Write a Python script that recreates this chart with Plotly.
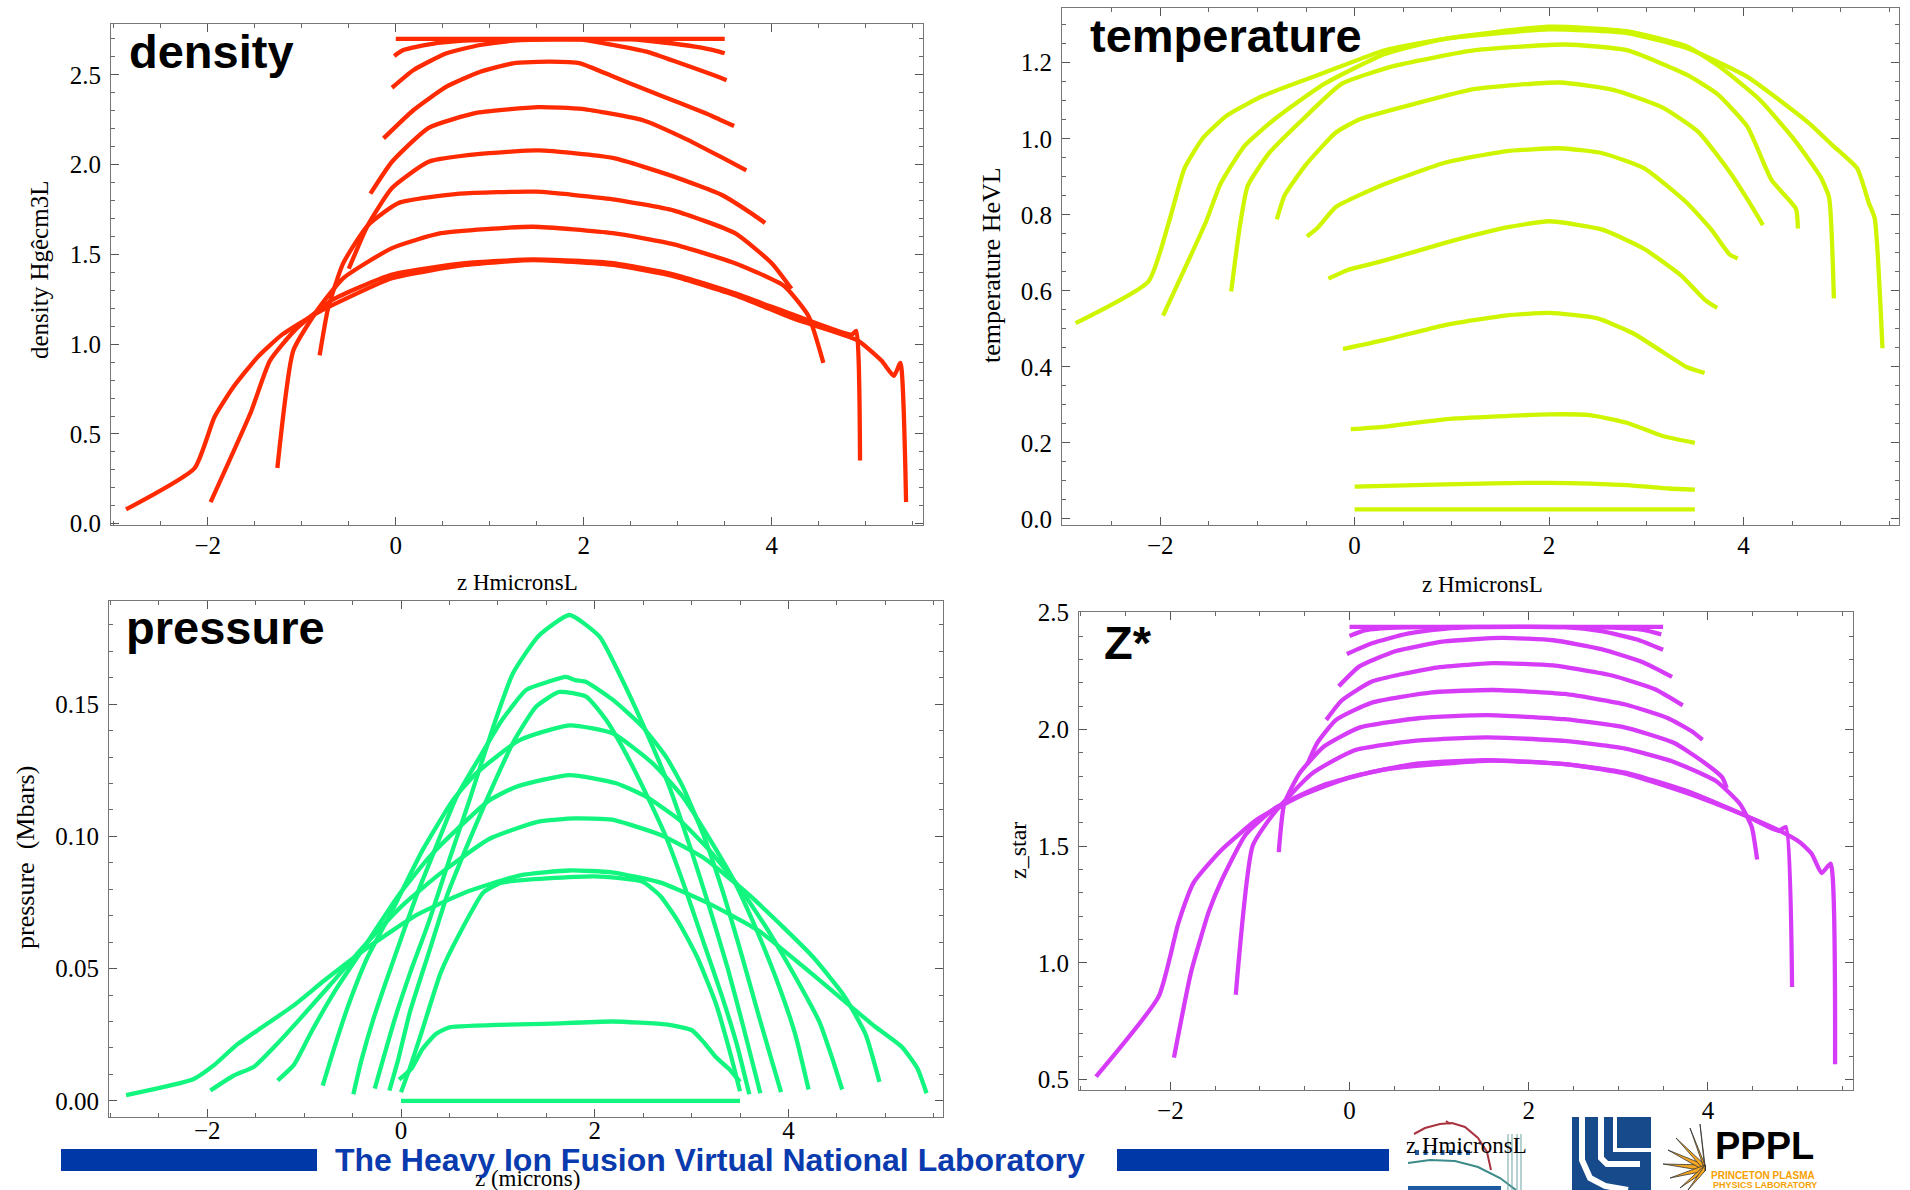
import plotly.graph_objects as go

W, H = 1910, 1190

# ---------------- data: ten time snapshots per quantity ----------------
# density (g/cm^3) versus z (microns)
DENS_Z = [
    [0.0, 3.5],
    [-0.017, 0.08, 0.37, 0.72, 1.5, 2.5, 2.85, 3.2, 3.38, 3.5],
    [-0.04, 0.19, 0.54, 0.9, 1.25, 1.7, 2.0, 2.32, 2.67, 3.03, 3.38, 3.52],
    [-0.13, 0.19, 0.54, 0.9, 1.25, 1.64, 1.96, 2.32, 2.67, 3.03, 3.38, 3.6],
    [-0.27, -0.04, 0.35, 0.87, 1.52, 1.98, 2.63, 3.09, 3.48, 3.73],
    [-0.5, -0.3, -0.04, 0.35, 0.87, 1.52, 2.31, 2.96, 3.48, 3.8, 3.93],
    [-0.81, -0.72, -0.56, -0.3, 0.03, 0.68, 1.49, 2.31, 2.96, 3.61, 4.0, 4.21],
    [-1.26, -1.09, -0.82, -0.56, -0.04, 0.48, 1.46, 2.31, 2.96, 3.61, 4.13, 4.39, 4.55],
    [-1.97, -1.54, -1.34, -1.08, -0.69, -0.04, 0.74, 1.46, 2.31, 2.96, 3.61, 4.26, 4.85, 4.9, 4.94],
    [-2.87, -2.14, -1.93, -1.73, -1.47, -1.21, -0.82, -0.04, 0.74, 1.46, 2.31, 2.96, 3.61, 4.26,
     4.91, 5.17, 5.3, 5.37, 5.43],
]
DENS_V = [
    [2.70, 2.70],
    [2.605, 2.638, 2.671, 2.69, 2.697, 2.697, 2.68, 2.656, 2.638, 2.62],
    [2.428, 2.527, 2.62, 2.666, 2.69, 2.697, 2.695, 2.666, 2.629, 2.564, 2.499, 2.47],
    [2.146, 2.304, 2.434, 2.517, 2.564, 2.573, 2.564, 2.489, 2.415, 2.341, 2.267, 2.215],
    [1.838, 2.016, 2.205, 2.289, 2.32, 2.31, 2.247, 2.142, 2.037, 1.968],
    [1.42, 1.66, 1.87, 2.016, 2.058, 2.079, 2.037, 1.933, 1.828, 1.723, 1.675],
    [0.938, 1.2, 1.45, 1.66, 1.786, 1.838, 1.849, 1.807, 1.744, 1.618, 1.451, 1.309],
    [0.31, 0.965, 1.2, 1.367, 1.535, 1.618, 1.654, 1.618, 1.556, 1.451, 1.325, 1.158, 0.896],
    [0.121, 0.624, 0.907, 1.074, 1.242, 1.388, 1.451, 1.472, 1.451, 1.388, 1.283, 1.158, 1.053, 1.074, 0.352],
    [0.08, 0.31, 0.593, 0.76, 0.928, 1.053, 1.179, 1.367, 1.441, 1.468, 1.441, 1.378, 1.273, 1.137,
     1.022, 0.907, 0.823, 0.896, 0.121],
]

# temperature (eV)
TEMP_Z = [
    [0.0, 3.5],
    [0.0, 0.93, 2.0, 2.8, 3.23, 3.5],
    [-0.04, 0.31, 0.93, 2.0, 2.42, 2.8, 3.17, 3.5],
    [-0.12, 0.31, 0.93, 1.55, 2.0, 2.49, 2.86, 3.17, 3.42, 3.6],
    [-0.27, -0.07, 0.31, 0.93, 1.55, 2.0, 2.55, 2.98, 3.36, 3.61, 3.73],
    [-0.49, -0.38, -0.19, 0.31, 0.93, 1.55, 2.11, 2.55, 2.98, 3.42, 3.67, 3.86, 3.94],
    [-0.8, -0.72, -0.5, -0.19, 0.06, 0.62, 1.24, 2.11, 2.67, 3.17, 3.54, 3.86, 4.04, 4.2],
    [-1.27, -1.18, -1.1, -0.88, -0.57, -0.13, 0.43, 1.24, 2.17, 2.8, 3.42, 3.73, 4.04, 4.29, 4.54, 4.56],
    [-1.97, -1.53, -1.38, -1.13, -0.82, -0.32, 0.31, 0.93, 2.0, 2.8, 3.42, 3.79, 4.17, 4.54, 4.79,
     4.88, 4.93],
    [-2.87, -2.12, -1.91, -1.75, -1.56, -1.31, -0.94, -0.32, 0.31, 0.93, 2.0, 2.8, 3.42, 4.04, 4.67,
     4.92, 5.17, 5.29, 5.35, 5.43],
]
TEMP_V = [
    [0.025, 0.025],
    [0.085, 0.091, 0.095, 0.089, 0.08, 0.077],
    [0.236, 0.243, 0.262, 0.275, 0.273, 0.253, 0.218, 0.2],
    [0.447, 0.471, 0.51, 0.535, 0.542, 0.528, 0.489, 0.439, 0.399, 0.384],
    [0.632, 0.655, 0.68, 0.726, 0.766, 0.783, 0.761, 0.71, 0.64, 0.575, 0.555],
    [0.743, 0.766, 0.821, 0.881, 0.937, 0.967, 0.975, 0.962, 0.922, 0.831, 0.761, 0.695, 0.685],
    [0.788, 0.851, 0.932, 1.017, 1.052, 1.092, 1.131, 1.148, 1.128, 1.082, 1.017, 0.912, 0.841, 0.773],
    [0.598, 0.771, 0.876, 0.962, 1.042, 1.145, 1.193, 1.233, 1.248, 1.233, 1.168, 1.118, 1.032, 0.891,
     0.816, 0.764],
    [0.535, 0.781, 0.881, 0.982, 1.052, 1.143, 1.223, 1.263, 1.295, 1.283, 1.243, 1.183, 1.102, 0.992,
     0.901, 0.846, 0.58],
    [0.515, 0.625, 0.781, 0.922, 1.002, 1.062, 1.113, 1.173, 1.233, 1.263, 1.288, 1.278, 1.238, 1.163,
     1.042, 0.982, 0.922, 0.831, 0.791, 0.449],
]

# pressure (Mbar)
PRES_Z = [
    [0.0, 3.5],
    [-0.02, 0.11, 0.22, 0.36, 0.5, 1.55, 2.18, 2.74, 3.0, 3.12, 3.25, 3.38, 3.5],
    [0.0, 0.09, 0.22, 0.41, 0.6, 0.85, 1.04, 2.0, 2.49, 2.68, 2.87, 3.06, 3.25, 3.41, 3.5],
    [-0.12, -0.032, 0.095, 0.284, 0.473, 0.662, 0.883, 1.155, 1.394, 1.634, 1.912, 2.12, 2.322, 2.562,
     2.744, 2.934, 3.123, 3.312, 3.47, 3.596],
    [-0.271, -0.189, -0.063, 0.095, 0.284, 0.505, 0.707, 0.953, 1.155, 1.42, 1.741, 2.05, 2.252, 2.492,
     2.77, 2.997, 3.186, 3.375, 3.533, 3.71],
    [-0.492, -0.41, -0.284, -0.095, 0.158, 0.347, 0.574, 0.852, 1.041, 1.293, 1.514, 1.703, 1.798,
     1.912, 2.189, 2.492, 2.738, 2.909, 3.123, 3.312, 3.502, 3.691, 3.817, 3.924],
    [-0.808, -0.694, -0.536, -0.347, -0.095, 0.221, 0.536, 0.776, 1.224, 1.741, 2.189, 2.599, 2.909,
     3.186, 3.438, 3.691, 3.88, 4.069, 4.208],
    [-1.274, -1.104, -0.915, -0.662, -0.347, -0.032, 0.284, 0.599, 0.915, 1.192, 1.741, 2.221, 2.53,
     2.871, 3.186, 3.502, 3.817, 4.069, 4.322, 4.448, 4.555],
    [-1.968, -1.735, -1.514, -1.293, -1.041, -0.726, -0.347, 0.032, 0.41, 0.915, 1.42, 1.798, 2.177,
     2.681, 3.123, 3.565, 3.943, 4.259, 4.574, 4.795, 4.94],
    [-2.839, -2.145, -1.924, -1.703, -1.42, -1.104, -0.789, -0.347, 0.158, 0.662, 1.23, 1.735, 2.177,
     2.681, 3.186, 3.691, 4.132, 4.511, 4.89, 5.174, 5.331, 5.426],
]
PRES_V = [
    [0.0, 0.0],
    [0.008, 0.0123, 0.0195, 0.0253, 0.0278, 0.0292, 0.030, 0.0289, 0.0268, 0.0224, 0.0166, 0.0123, 0.0072],
    [0.0033, 0.0123, 0.0268, 0.0485, 0.0629, 0.0788, 0.0825, 0.0849, 0.0829, 0.0774, 0.0673, 0.0542,
     0.0369, 0.0166, 0.0036],
    [0.0039, 0.0152, 0.034, 0.0557, 0.0774, 0.0947, 0.1137, 0.1353, 0.149, 0.1546, 0.1528, 0.1439,
     0.1313, 0.1137, 0.0991, 0.0803, 0.06, 0.0398, 0.021, 0.0025],
    [0.0046, 0.0152, 0.0311, 0.0485, 0.0673, 0.0919, 0.1137, 0.1415, 0.1616, 0.1758, 0.1837, 0.1755,
     0.1616, 0.1428, 0.1188, 0.0947, 0.073, 0.0499, 0.0282, 0.0029],
    [0.0025, 0.0152, 0.0311, 0.0514, 0.0774, 0.0947, 0.115, 0.1324, 0.1439, 0.1554, 0.1584, 0.1603,
     0.1591, 0.1584, 0.1516, 0.1415, 0.13, 0.1188, 0.1005, 0.0803, 0.0571, 0.0325, 0.0166, 0.0033],
    [0.0058, 0.0195, 0.0369, 0.0542, 0.0716, 0.0947, 0.1137, 0.1238, 0.1364, 0.142, 0.1389, 0.1276,
     0.115, 0.0991, 0.0832, 0.0629, 0.0456, 0.0253, 0.0043],
    [0.0077, 0.0137, 0.0268, 0.0427, 0.06, 0.0774, 0.0919, 0.1034, 0.1137, 0.1188, 0.1232, 0.1201,
     0.115, 0.1063, 0.0947, 0.0803, 0.0629, 0.047, 0.0297, 0.0166, 0.0043],
    [0.0039, 0.0094, 0.013, 0.021, 0.0311, 0.0441, 0.06, 0.0745, 0.0861, 0.0991, 0.1056, 0.1068,
     0.1063, 0.1005, 0.0919, 0.0788, 0.0658, 0.0542, 0.0398, 0.0253, 0.0072],
    [0.0022, 0.0082, 0.0137, 0.021, 0.0282, 0.0362, 0.0456, 0.0579, 0.0702, 0.0788, 0.0853, 0.0871,
     0.0864, 0.0825, 0.0745, 0.0644, 0.0514, 0.0398, 0.0282, 0.0203, 0.0123, 0.0029],
]

# mean ionization state Z*
ZSTAR_Z = [
    [0.0, 3.5],
    [0.0, 0.18, 0.52, 1.5, 2.94, 3.28, 3.48],
    [-0.03, 0.25, 0.65, 1.06, 1.39, 2.4, 2.81, 3.21, 3.5],
    [-0.12, 0.11, 0.52, 1.06, 1.7, 2.27, 2.81, 3.28, 3.6],
    [-0.26, -0.09, 0.25, 0.92, 1.6, 2.27, 2.94, 3.41, 3.72],
    [-0.47, -0.36, -0.15, 0.25, 0.92, 1.6, 2.4, 3.08, 3.55, 3.82, 3.94],
    [-0.79, -0.73, -0.56, -0.29, 0.11, 0.79, 1.53, 2.4, 3.08, 3.62, 3.95, 4.16, 4.21],
    [-1.27, -1.08, -0.83, -0.42, 0.05, 0.72, 1.53, 2.4, 3.08, 3.62, 4.09, 4.36, 4.49, 4.55],
    [-1.96, -1.77, -1.57, -1.43, -1.16, -0.83, -0.29, 0.38, 1.53, 2.4, 3.08, 3.75, 4.42, 4.79, 4.87, 4.94],
    [-2.83, -2.13, -1.91, -1.74, -1.43, -1.03, -0.56, 0.0, 0.72, 1.53, 2.4, 3.08, 3.75, 4.42, 4.76,
     5.03, 5.16, 5.27, 5.37, 5.42],
]
ZSTAR_V = [
    [2.439, 2.439],
    [2.40, 2.425, 2.436, 2.439, 2.436, 2.426, 2.407],
    [2.323, 2.369, 2.41, 2.431, 2.438, 2.438, 2.421, 2.385, 2.341],
    [2.185, 2.27, 2.336, 2.377, 2.392, 2.382, 2.344, 2.287, 2.225],
    [2.041, 2.123, 2.205, 2.262, 2.284, 2.274, 2.23, 2.172, 2.103],
    [1.852, 1.943, 2.041, 2.115, 2.159, 2.169, 2.152, 2.107, 2.049, 1.992, 1.956],
    [1.475, 1.68, 1.811, 1.926, 2.008, 2.049, 2.061, 2.044, 2.008, 1.943, 1.861, 1.795, 1.749],
    [0.864, 1.503, 1.648, 1.811, 1.91, 1.951, 1.966, 1.951, 1.918, 1.861, 1.779, 1.68, 1.582, 1.443],
    [0.595, 0.959, 1.221, 1.352, 1.549, 1.664, 1.762, 1.828, 1.866, 1.852, 1.815, 1.738, 1.631, 1.566,
     1.582, 0.897],
    [0.513, 0.857, 1.172, 1.344, 1.484, 1.615, 1.713, 1.795, 1.852, 1.869, 1.852, 1.811, 1.73, 1.631,
     1.574, 1.516, 1.467, 1.385, 1.426, 0.566],
]

PANEL_NAMES = ["density", "temperature", "pressure", "Z*"]
Y_TITLES = ["density Hgêcm3L", "temperature HeVL", "pressure  (Mbars)", "z_star"]
X_TITLES = ["z HmicronsL", "z HmicronsL", "z (microns)", "z HmicronsL"]
BANNER = "The Heavy Ion Fusion Virtual National Laboratory"

COLORS = ["#FF2A00", "#CFF500", "#12F57E", "#D63CF8"]


def px(x):
    return x / W


def py(y):
    return 1 - y / H


fig = go.Figure()

panels = [(DENS_Z, DENS_V), (TEMP_Z, TEMP_V), (PRES_Z, PRES_V), (ZSTAR_Z, ZSTAR_V)]
for k, (zs, vs) in enumerate(panels):
    suffix = "" if k == 0 else str(k + 1)
    for z, v in zip(zs, vs):
        fig.add_trace(go.Scatter(
            x=z, y=v, mode="lines", xaxis="x" + suffix, yaxis="y" + suffix,
            line=dict(color=COLORS[k], width=4.3, shape="spline", smoothing=0.5),
            showlegend=False, hoverinfo="skip"))

# axis boxes in pixels: left, right, top, bottom
boxes = [(111, 923, 24, 525), (1062, 1899, 8, 525), (109, 943, 601, 1117), (1079, 1853, 612, 1090)]
x_ranges = [[-3.03, 5.61], [-3.01, 5.60], [-3.015, 5.596], [-3.02, 5.62]]
y_ranges = [[-0.007, 2.783], [-0.016, 1.344], [-0.0061, 0.189], [0.456, 2.503]]
y_dticks = [0.5, 0.2, 0.05, 0.5]
y_minor = [0.1, 0.05, 0.01, 0.1]
y_formats = [".1f", ".1f", ".2f", ".1f"]
x_standoff = [-2, -2, -9, -2]

tick_font = dict(family="Liberation Serif, Times New Roman, serif", size=25, color="black")
frame = dict(showline=True, linecolor="#777", linewidth=1.2, mirror="allticks",
             ticks="inside", ticklen=8, tickwidth=1.2, tickcolor="#555", automargin=False,
             showgrid=False, zeroline=False, tickfont=tick_font, fixedrange=True)

layout_axes = {}
for k in range(4):
    l, r, t, b = boxes[k]
    suffix = "" if k == 0 else str(k + 1)
    layout_axes["xaxis" + suffix] = dict(
        frame, domain=[px(l), px(r)], range=x_ranges[k], anchor="y" + suffix,
        tick0=0, dtick=2, ticklabelstandoff=x_standoff[k],
        minor=dict(dtick=0.5, ticks="inside", ticklen=4, tickcolor="#666", tickwidth=1))
    layout_axes["yaxis" + suffix] = dict(
        frame, domain=[py(b), py(t)], range=y_ranges[k], anchor="x" + suffix,
        tick0=0, dtick=y_dticks[k], tickformat=y_formats[k], ticklabelstandoff=4,
        minor=dict(dtick=y_minor[k], ticks="inside", ticklen=4, tickcolor="#666", tickwidth=1))

annotations = []
# panel names
title_pos = [(127, 52), (1088, 35), (124, 627), (1102, 642)]
for name, (x, y) in zip(PANEL_NAMES, title_pos):
    annotations.append(dict(text="<b>%s</b>" % name, x=px(x), y=py(y), xref="paper", yref="paper",
                            xanchor="left", yanchor="middle", showarrow=False,
                            font=dict(family="Liberation Sans, Arial, sans-serif", size=47, color="black")))

ytitle_pos = [(40, 270), (991, 265), (25, 858), (1018, 851)]
ytitle_size = [25, 26, 26, 24]
for txt, (x, y), fs in zip(Y_TITLES, ytitle_pos, ytitle_size):
    annotations.append(dict(text=txt, x=px(x), y=py(y), xref="paper", yref="paper", textangle=-90,
                            xanchor="center", yanchor="middle", showarrow=False,
                            font=dict(family="Liberation Serif, Times New Roman, serif", size=fs,
                                      color="black")))
label_font = dict(family="Liberation Serif, Times New Roman, serif", size=23, color="black")
xtitle_pos = [(517, 582), (1482, 584), (527, 1178), (1466, 1145)]
for txt, (x, y) in zip(X_TITLES, xtitle_pos):
    annotations.append(dict(text=txt, x=px(x), y=py(y), xref="paper", yref="paper",
                            xanchor="center", yanchor="middle", showarrow=False, font=label_font))

# footer banner
BLUE = "#0038A8"
annotations.append(dict(text="<b>%s</b>" % BANNER, x=px(710), y=py(1160), xref="paper", yref="paper",
                        xanchor="center", yanchor="middle", showarrow=False,
                        font=dict(family="Liberation Sans, Arial, sans-serif", size=32, color="#0A3BAE")))

shapes = []


def rect(x0, y0, x1, y1, color, line=None):
    shapes.append(dict(type="rect", xref="paper", yref="paper", x0=px(x0), x1=px(x1),
                       y0=py(y1), y1=py(y0), fillcolor=color,
                       line=dict(width=0) if line is None else line, layer="above"))


def path(d_pts, color=None, fill=None, width=2, closed=False):
    d = "M " + " L ".join("%f,%f" % (px(a), py(b)) for a, b in d_pts)
    if closed:
        d += " Z"
    shapes.append(dict(type="path", xref="paper", yref="paper", path=d,
                       fillcolor=fill if fill else "rgba(0,0,0,0)",
                       line=dict(color=color if color else "rgba(0,0,0,0)", width=width), layer="above"))


rect(61, 1149, 317, 1171, BLUE)
rect(1117, 1149, 1389, 1171, BLUE)

# Berkeley Lab emblem
path([(1414, 1134), (1425, 1128), (1440, 1124), (1452, 1123), (1465, 1127), (1478, 1138),
      (1487, 1152), (1491, 1170)], color="#A8323E", width=2)
path([(1446, 1121), (1450, 1124)], color="#A8323E", width=2)
path([(1408, 1163), (1430, 1160), (1455, 1161), (1478, 1167), (1500, 1178), (1516, 1190)],
     color="#3D8A8A", width=2)
for xx in (1508, 1512, 1517, 1521):
    path([(xx, 1134), (xx, 1190)], color="#6FA3A3", width=1)
for i in range(7):
    rect(1415 + i * 8.5, 1150, 1419 + i * 8.5, 1155, "#1F5AA0")
rect(1408, 1186, 1501, 1190, "#1F5AA0")

# LLNL emblem
rect(1572, 1117, 1651, 1190, "#174A8B")
path([(1582, 1117), (1582, 1160), (1590, 1178), (1605, 1186), (1628, 1190)], color="white", width=6)
path([(1601, 1117), (1601, 1158), (1607, 1164), (1640, 1164)], color="white", width=6)
path([(1615, 1117), (1615, 1150), (1651, 1150)], color="white", width=4)

# PPPL emblem
cx, cy = 1705, 1168
spikes = [(1663, 1164), (1668, 1150), (1676, 1138), (1690, 1128), (1700, 1124), (1670, 1178),
          (1680, 1188), (1688, 1190)]
for sx, sy in spikes:
    path([(cx, cy - 3), (sx, sy), (cx, cy + 3)], color="#333", fill="#F5A623", width=0.8, closed=True)
pppl_font = "Liberation Sans, Arial, sans-serif"
annotations.append(dict(text="<b>PPPL</b>", x=px(1764), y=py(1146), xref="paper", yref="paper",
                        xanchor="center", yanchor="middle", showarrow=False,
                        font=dict(family=pppl_font, size=38, color="black")))
annotations.append(dict(text="<b>PRINCETON PLASMA</b>", x=px(1763), y=py(1175), xref="paper",
                        yref="paper", xanchor="center", yanchor="middle", showarrow=False,
                        font=dict(family=pppl_font, size=10, color="#F5A000")))
annotations.append(dict(text="<b>PHYSICS LABORATORY</b>", x=px(1765), y=py(1185), xref="paper",
                        yref="paper", xanchor="center", yanchor="middle", showarrow=False,
                        font=dict(family=pppl_font, size=9, color="#F5A000")))

fig.update_layout(
    width=W, height=H, autosize=False,
    margin=dict(l=0, r=0, t=0, b=0, pad=0, autoexpand=False),
    paper_bgcolor="white", plot_bgcolor="white",
    showlegend=False,
    annotations=annotations, shapes=shapes,
    **layout_axes,
)

fig.write_html("out.html", config={"displayModeBar": False})
